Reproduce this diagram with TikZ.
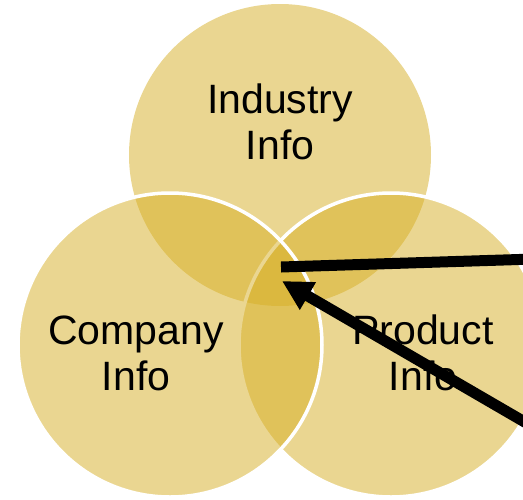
\documentclass[tikz,border=0pt]{standalone}
\usepackage{fontspec}
\setmainfont{Liberation Sans}
\usetikzlibrary{arrows.meta,positioning}
\definecolor{venngold}{RGB}{214,174,36}

\tikzset{
  vennlabel/.style={font=\fontsize{41}{46}\selectfont, align=center, text=black},
  venncircle/.style={fill=venngold, fill opacity=0.5},
  vennring/.style={venncircle, draw=white, line width=3.5pt},
  pointer/.style={draw=black, line width=11pt}
}

\begin{document}
\begin{tikzpicture}[x=1pt,y=-1pt]
 \useasboundingbox (0,0) rectangle (523,499);
 \clip (0,0) rectangle (523,499);

 %Coordinates
 \coordinate (industry) at (280,155);
 \coordinate (company) at (170,345);
 \coordinate (product) at (391,345);
 \coordinate (hub) at (281,267);
 \coordinate (tip) at (282,281);
 \coordinate (rightend) at (535,259);
 \coordinate (lowerend) at (535,428);

 %Circles
 \fill[venncircle] (industry) circle (151pt);
 \filldraw[vennring] (product) circle (152pt);
 \filldraw[vennring] (company) circle (152pt);

 %Name
 \node (industrytext) [vennlabel] at (280,122) {Industry\\Info};
 \node (companytext) [vennlabel] at (136,353) {Company\\Info};
 \node (producttext) [vennlabel] at (423,353) {Product\\Info};

 %Arrows
 \draw[pointer] (hub) -- (rightend);
 \draw[pointer,-{Triangle[length=30pt,width=30pt]}] (lowerend) -- (tip);

\end{tikzpicture}
\end{document}
